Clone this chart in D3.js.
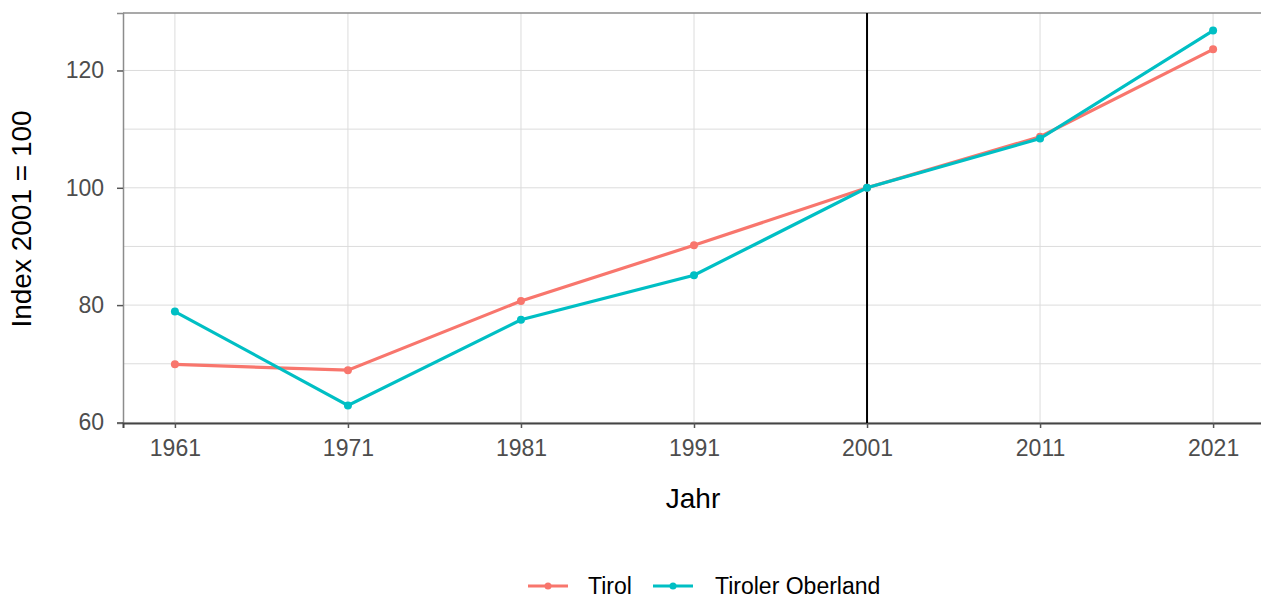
<!DOCTYPE html>
<html>
<head>
<meta charset="utf-8">
<script src="https://cdn.jsdelivr.net/npm/d3@7"></script>
<style>
  body { margin: 0; background: #fff; }
  text { font-family: Arial, "Liberation Sans", sans-serif; }
</style>
</head>
<body>
<div id="chart"></div>
<script>
// data
const years = [1961, 1971, 1981, 1991, 2001, 2011, 2021];
const tirol = [69.9, 68.9, 80.7, 90.2, 100, 108.7, 123.6];
const oberland = [78.9, 62.9, 77.5, 85.1, 100, 108.4, 126.8];
const seriesNames = ['Tirol', 'Tiroler Oberland'];
const seriesColors = ['#F8766D', '#00BFC4'];
const yTicks = [60, 80, 100, 120];
const yGrid = [60, 70, 80, 90, 100, 110, 120];

const width = 1261, height = 598;
const margin = {top: 13, right: -4, bottom: 175, left: 123};
const w = width - margin.left - margin.right;
const h = height - margin.top - margin.bottom;

const svg = d3.select('#chart').append('svg')
    .attr('width', width)
    .attr('height', height);

const g = svg.append('g')
    .attr('transform', `translate(${margin.left},${margin.top})`);

const x = d3.scaleLinear().domain([1958, 2024]).range([0, w]);
const y = d3.scaleLinear().domain([60 - 0.1, 129.8]).range([h, 0]);

// grid
g.selectAll('.hgrid').data(yGrid).enter().append('line')
    .attr('x1', 0).attr('x2', w)
    .attr('y1', d => y(d)).attr('y2', d => y(d))
    .attr('stroke', '#dcdcdc').attr('stroke-width', 1);
g.selectAll('.vgrid').data(years).enter().append('line')
    .attr('x1', d => x(d)).attr('x2', d => x(d))
    .attr('y1', 0).attr('y2', h)
    .attr('stroke', '#dcdcdc').attr('stroke-width', 1);

// top border
g.append('line').attr('x1', 0).attr('x2', w).attr('y1', 0).attr('y2', 0)
    .attr('stroke', '#8c8c8c').attr('stroke-width', 1.5);

// axes
const yAxis = g.append('g')
    .call(d3.axisLeft(y).tickValues(yTicks).tickSize(6).tickPadding(13));
yAxis.select('.domain').attr('stroke', '#8c8c8c').attr('stroke-width', 1.5);
yAxis.selectAll('.tick line').attr('stroke', '#555').attr('stroke-width', 1.5);
yAxis.selectAll('.tick text').attr('fill', '#4d4d4d')
    .style('font-size', '23px');

const xAxis = g.append('g')
    .attr('transform', `translate(0,${h})`)
    .call(d3.axisBottom(x).tickValues(years).tickFormat(d3.format('d')).tickSize(5).tickPadding(12));
xAxis.select('.domain').attr('stroke', '#444').attr('stroke-width', 2);
xAxis.selectAll('.tick line').attr('stroke', '#555').attr('stroke-width', 1.5);
xAxis.selectAll('.tick text').attr('fill', '#4d4d4d')
    .style('font-size', '23px');

// reference line at 2001
g.append('line')
    .attr('x1', x(2001)).attr('x2', x(2001))
    .attr('y1', 0).attr('y2', h)
    .attr('stroke', '#000').attr('stroke-width', 2);

// series
const allSeries = [tirol, oberland];
const line = d3.line().x((d, i) => x(years[i])).y(d => y(d));
allSeries.forEach((vals, k) => {
  g.append('path').datum(vals)
      .attr('fill', 'none')
      .attr('stroke', seriesColors[k])
      .attr('stroke-width', 3.2)
      .attr('d', line);
  g.selectAll('.pt' + k).data(vals).enter().append('circle')
      .attr('cx', (d, i) => x(years[i]))
      .attr('cy', d => y(d))
      .attr('r', 4)
      .attr('fill', seriesColors[k]);
});

// axis titles
svg.append('text')
    .attr('x', 693).attr('y', 508)
    .attr('text-anchor', 'middle')
    .style('font-size', '28px')
    .text('Jahr');

svg.append('text')
    .attr('transform', `translate(31,${margin.top + h / 2 + 1}) rotate(-90)`)
    .attr('text-anchor', 'middle')
    .style('font-size', '28px')
    .text('Index 2001 = 100');

// legend
const legend = svg.append('g').attr('transform', 'translate(0,586)');
const legX = [528, 653];
const textX = [588, 715];
seriesNames.forEach((name, k) => {
  legend.append('line')
      .attr('x1', legX[k]).attr('x2', legX[k] + 40)
      .attr('y1', 0).attr('y2', 0)
      .attr('stroke', seriesColors[k]).attr('stroke-width', 3);
  legend.append('circle')
      .attr('cx', legX[k] + 20).attr('cy', 0).attr('r', 3.5)
      .attr('fill', seriesColors[k]);
  legend.append('text')
      .attr('x', textX[k]).attr('y', 0)
      .attr('dy', '0.35em')
      .style('font-size', '23px')
      .text(name);
});
</script>
</body>
</html>
